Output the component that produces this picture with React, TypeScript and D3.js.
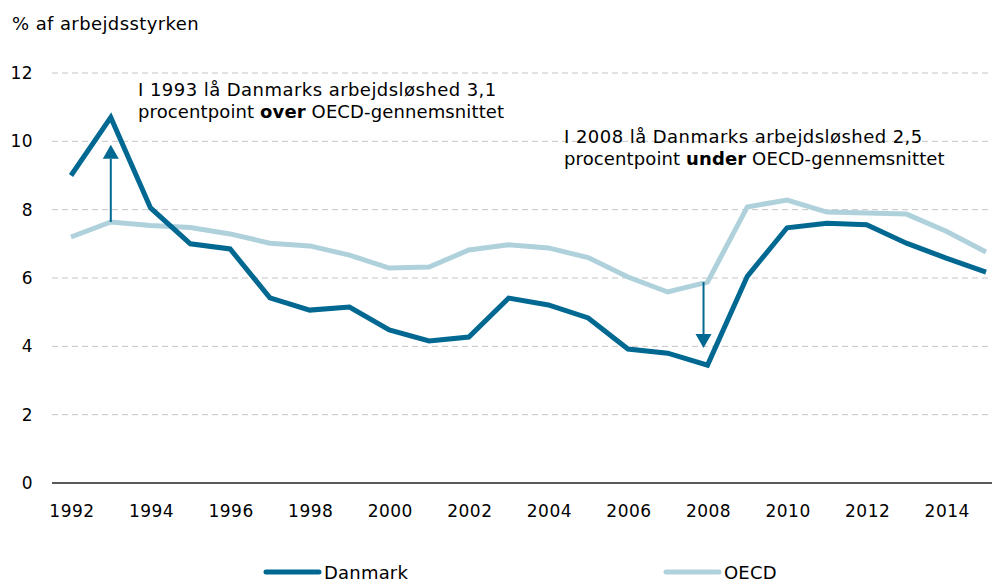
import React from "react";
import * as d3 from "d3";

const years = d3.range(1992, 2016);
const danmark = [9.0, 10.7, 8.05, 7.0, 6.85, 5.42, 5.06, 5.15, 4.48, 4.16, 4.27, 5.41, 5.21, 4.83, 3.92, 3.8, 3.45, 6.05, 7.47, 7.6, 7.56, 7.02, 6.58, 6.17];
const oecd = [7.2, 7.64, 7.54, 7.48, 7.29, 7.02, 6.94, 6.67, 6.29, 6.32, 6.82, 6.97, 6.88, 6.6, 6.03, 5.59, 5.88, 8.08, 8.28, 7.93, 7.9, 7.87, 7.37, 6.76];
const yTicks = [0, 2, 4, 6, 8, 10, 12];
const xTicks = [1992, 1994, 1996, 1998, 2000, 2002, 2004, 2006, 2008, 2010, 2012, 2014];
const yTitle = "% af arbejdsstyrken";
const seriesNames = ["Danmark", "OECD"];
const colors = ["#006891", "#afd1dc"];
const ann1 = { year: 1993, from: 7.64, to: 9.9, l1: "I 1993 lå Danmarks arbejdsløshed 3,1", pre: "procentpoint ", bold: "over", post: " OECD-gennemsnittet" };
const ann2 = { year: 2008, from: 5.88, to: 3.95, l1: "I 2008 lå Danmarks arbejdsløshed 2,5", pre: "procentpoint ", bold: "under", post: " OECD-gennemsnittet" };

const W = 992, H = 581;
const font = "'DejaVu Sans', Verdana, sans-serif";

export default function App() {
  const x = d3.scaleLinear().domain([1992, 2015]).range([71, 986]);
  const y = d3.scaleLinear().domain([0, 12]).range([483, 73]);
  const line = d3.line<number>().x((_, i) => x(years[i])).y((d) => y(d));
  const arrow = (a: typeof ann1, dx: number) => {
    const ax = x(a.year) + dx;
    const y0 = y(a.from), y1 = y(a.to);
    const dir = y1 < y0 ? -1 : 1;
    const hh = 14, hw = 8;
    const base = y1 - dir * hh;
    return (
      <g>
        <line x1={ax} x2={ax} y1={y0} y2={base} stroke={colors[0]} strokeWidth={2} />
        <path d={`M${ax - hw},${base} L${ax + hw},${base} L${ax},${y1} Z`} fill={colors[0]} />
      </g>
    );
  };
  const s1 = { fontSize: 18, letterSpacing: 0.45 } as const;
  const s2 = { fontSize: 18, letterSpacing: 0.12 } as const;
  return (
    <svg width={W} height={H} style={{ position: "absolute", left: 0, top: 0 }} fontFamily={font}>
      <rect width={W} height={H} fill="#fff" />
      <text x={12} y={30} fontSize={18} letterSpacing={0.4} fill="#000">{yTitle}</text>
      {yTicks.map((t) => (
        <g key={t}>
          {t !== 0 && <line x1={52} x2={992} y1={y(t)} y2={y(t)} stroke="#c4c4c4" strokeDasharray="6,4" strokeWidth={1} />}
          <text x={33} y={y(t) + 6} textAnchor="end" fontSize={17} letterSpacing={0.4} fill="#000">{t}</text>
        </g>
      ))}
      <line x1={52} x2={992} y1={y(0)} y2={y(0)} stroke="#595959" strokeWidth={2} />
      {xTicks.map((t) => (
        <text key={t} x={x(t) + 1} y={517} textAnchor="middle" fontSize={17} letterSpacing={0.5} fill="#000">{t}</text>
      ))}
      <path d={line(oecd) || ""} fill="none" stroke={colors[1]} strokeWidth={5} strokeLinejoin="miter" />
      <path d={line(danmark) || ""} fill="none" stroke={colors[0]} strokeWidth={5} strokeLinejoin="miter" />
      {arrow(ann1, 0)}
      {arrow(ann2, -4)}
      <text x={138} y={96} {...s1} fill="#000">{ann1.l1}</text>
      <text x={138} y={118} {...s2} fill="#000">{ann1.pre}<tspan fontWeight="bold">{ann1.bold}</tspan>{ann1.post}</text>
      <text x={564} y={142.5} {...s1} fill="#000">{ann2.l1}</text>
      <text x={564} y={165} {...s2} fill="#000">{ann2.pre}<tspan fontWeight="bold">{ann2.bold}</tspan>{ann2.post}</text>
      {seriesNames.map((n, i) => {
        const lx = i === 0 ? 266 : 666;
        return (
          <g key={n}>
            <line x1={lx} x2={lx + 53} y1={572} y2={572} stroke={colors[i]} strokeWidth={5} strokeLinecap="round" />
            <text x={lx + 58} y={578.5} fontSize={18} letterSpacing={0.2} fill="#000">{n}</text>
          </g>
        );
      })}
    </svg>
  );
}
